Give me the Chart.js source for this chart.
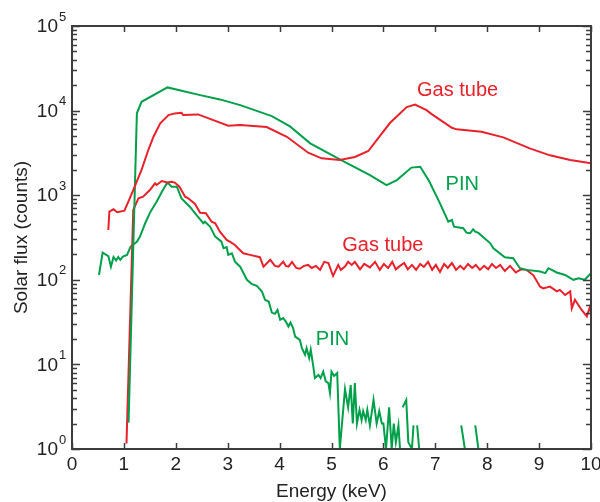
<!DOCTYPE html>
<html>
<head>
<meta charset="utf-8">
<script src="https://cdn.jsdelivr.net/npm/chart.js@4.4.1/dist/chart.umd.min.js"></script>
<style>
  body { margin: 0; background: #fff; }
  #wrap { width: 600px; height: 502px; }
</style>
</head>
<body>
<div id="wrap"><canvas id="chart" width="600" height="502"></canvas></div>
<script>
// values: energy in keV, solar flux in counts
const gasHiE = [0.70, 0.72, 0.80, 0.87, 1.01, 1.08, 1.18, 1.34, 1.47, 1.57, 1.70, 1.86, 1.98, 2.11, 2.14, 2.43, 3.01, 3.24, 3.75, 4.14,
  4.55, 4.81, 5.16, 5.45, 5.71, 5.93, 6.13, 6.45, 6.61, 6.83, 6.93, 7.32, 7.41, 7.89, 8.31, 8.82, 9.21, 9.60, 10.0];
const gasHiF = [388, 639, 682, 628, 656, 824, 1150, 1990, 3420, 4910, 7060, 8850, 9270, 9420, 8850, 9020, 6620, 6750, 6390, 4910,
  3180, 2730, 2610, 2830, 3330, 5000, 7180, 11000, 11780, 10140, 9100, 6270, 6000, 5620, 4830, 3580, 2960, 2600, 2380];

const pinHiE = [1.09, 1.25, 1.34, 1.84, 2.47, 2.85, 3.24, 3.85, 4.20, 4.59, 5.16, 5.74, 6.06, 6.26, 6.54, 6.71, 6.88, 7.09, 7.25, 7.32,
  7.36, 7.54, 7.60, 7.67, 7.73, 7.77, 7.83, 8.06, 8.12, 8.34, 8.50, 8.63, 8.76, 9.02, 9.12, 9.18, 9.34, 9.50, 9.66, 9.76, 9.88, 10.0];
const pinHiF = [2.05, 9300, 12700, 18800, 15240, 13560, 11610, 8610, 6500, 4100, 2650, 1730, 1318, 1510, 2120, 2170, 1470, 802, 486, 509,
  425, 407, 361, 355, 396, 371, 358, 270, 236, 185, 180, 137, 131, 125, 120, 137, 122, 114, 100, 104, 100, 120];

const gasLoE = [1.05, 1.18, 1.28, 1.37, 1.50, 1.60, 1.63, 1.73, 1.84, 1.92, 1.98, 2.07, 2.18, 2.24, 2.37, 2.47, 2.58, 2.69, 2.76, 2.85,
  2.98, 3.04, 3.14, 3.20, 3.30, 3.43, 3.62, 3.69, 3.82, 3.91, 3.98, 4.07, 4.12, 4.17, 4.24, 4.32, 4.39, 4.47, 4.55, 4.62,
  4.70, 4.78, 4.86, 4.94, 5.03, 5.13, 5.18, 5.26, 5.32, 5.39, 5.45, 5.55, 5.63, 5.74, 5.84, 5.93, 6.01, 6.09, 6.17, 6.24,
  6.32, 6.40, 6.47, 6.55, 6.63, 6.71, 6.78, 6.86, 6.94, 7.01, 7.09, 7.17, 7.24, 7.32, 7.40, 7.48, 7.55, 7.63, 7.71, 7.78,
  7.86, 7.94, 8.02, 8.09, 8.17, 8.25, 8.34, 8.44, 8.55, 8.65, 8.76, 8.89, 9.02, 9.08, 9.21, 9.34, 9.40, 9.50, 9.60, 9.63,
  9.69, 9.82, 9.92, 9.98, 10.0];
const gasLoF = [1.16, 671, 918, 960, 1150, 1380, 1320, 1470, 1410, 1440, 1410, 1260, 960, 918, 787, 621, 611, 486, 466, 371,
  296, 282, 258, 236, 206, 197, 185, 143, 172, 146, 143, 164, 146, 143, 163, 138, 135, 146, 150, 138,
  146, 131, 163, 158, 111, 150, 131, 143, 163, 150, 163, 133, 154, 140, 163, 131, 154, 138, 163, 133,
  146, 158, 133, 150, 131, 154, 142, 163, 131, 150, 124, 154, 138, 158, 131, 146, 133, 154, 138, 150,
  131, 146, 133, 154, 138, 150, 127, 146, 122, 133, 131, 113, 83, 79, 83, 73, 76, 66, 73, 46,
  58, 44, 37, 48, 41];

// null = zero counts (no point on a log axis)
const pinLoE = [0.52, 0.59, 0.70, 0.75, 0.80, 0.85, 0.89, 0.93, 0.98, 1.06, 1.13, 1.25, 1.31, 1.41, 1.51, 1.63, 1.73, 1.82, 1.85, 1.92,
  2.02, 2.11, 2.27, 2.40, 2.53, 2.56, 2.66, 2.76, 2.88, 2.92, 2.98, 3.01, 3.08, 3.14, 3.24, 3.37, 3.46, 3.56, 3.66, 3.72,
  3.79, 3.85, 3.91, 3.96, 4.01, 4.07, 4.12, 4.17, 4.21, 4.26, 4.30, 4.39, 4.43, 4.49, 4.52, 4.57, 4.60, 4.65, 4.68, 4.75,
  4.79, 4.84, 4.89, 4.94, 4.97, 5.00, 5.05, 5.11, 5.16, 5.26, 5.32, 5.37, 5.41, 5.45, 5.49, 5.54, 5.58, 5.61, 5.66, 5.69,
  5.74, 5.81, 5.87, 5.92, 5.97, 6.00, 6.05, 6.11, 6.16, 6.20, 6.24, 6.29, 6.32, 6.35, 6.37, 6.44, 6.48, 6.55, 6.58, 6.62,
  6.65, 6.69, 6.72, 7.50, 7.57, 7.62, 7.77, 7.83];
const pinLoF = [114, 210, 191, 143, 186, 169, 186, 172, 188, 197, 247, 282, 324, 466, 634, 838, 1090, 1355, 1390, 1260,
  1260, 918, 731, 583, 466, 486, 425, 324, 282, 236, 243, 197, 206, 164, 143, 100, 89.5, 84.8, 72.6, 58,
  55.3, 41, 39.6, 44.1, 33.7, 35.3, 32.1, 28, 31.2, 26.8, 21.3, 19.5, 15.6, 13, 15.6, 11.9, 14.9, 9.4, 6.9, 7.5,
  6.9, 8.2, 6.3, 6.0, 4.6, 8.2, 7.3, 7.9, 1, 5.1, 3.1, 5.7, 2.0, 6.0, 2.0, 2.9, 2.2, 2.8, 2.2, 2.9,
  1.9, 3.8, 2.0, 2.8, 2.0, 2.0, 1, 3.1, 1, 2.0, 1.2, 1.9, 1, null, 3.1, 3.8, 1.2, 1, 1.9, null,
  1.9, 1, null, 1.9, 1, null, 1.9, 1];

const xTicks = [0, 1, 2, 3, 4, 5, 6, 7, 8, 9, 10];
const yExps = [0, 1, 2, 3, 4, 5];

// curve labels: [text, energy, flux, colour]
const labelText = ["Gas tube", "PIN", "Gas tube", "PIN"];
const labelE = [7.43, 7.52, 5.99, 5.02];
const labelF = [17500, 1356, 255, 19.5];

const red = "#e8212b";
const green = "#00a04b";
const labelColor = [red, green, red, green];
const font = "'Liberation Sans', Arial, sans-serif";

function pairs(xs, ys) {
  return xs.map((x, i) => ({ x: x, y: ys[i] }));
}

function line(data, color) {
  return {
    data: data,
    borderColor: color,
    borderWidth: 2,
    pointRadius: 0,
    tension: 0,
    fill: false,
    spanGaps: false,
  };
}

// frame, inward ticks, tick labels, axis titles and curve labels
const frame = {
  id: "frame",
  afterDatasetsDraw(chart) {
    const ctx = chart.ctx;
    const a = chart.chartArea;
    const xs = chart.scales.x;
    const ys = chart.scales.y;
    ctx.save();
    ctx.strokeStyle = "#3c3c3c";
    ctx.lineWidth = 1.5;

    ctx.beginPath();
    for (const t of xTicks) {
      const px = Math.round(xs.getPixelForValue(t)) + 0.5;
      ctx.moveTo(px, a.bottom); ctx.lineTo(px, a.bottom - 6);
      ctx.moveTo(px, a.top); ctx.lineTo(px, a.top + 6);
    }
    for (const k of yExps) {
      for (let m = 1; m <= 9; m++) {
        const v = m * Math.pow(10, k);
        if (v > 1e5) break;
        const py = Math.round(ys.getPixelForValue(v)) + 0.5;
        const len = m === 1 ? 8 : 5;
        ctx.moveTo(a.left, py); ctx.lineTo(a.left + len, py);
        ctx.moveTo(a.right, py); ctx.lineTo(a.right - len, py);
      }
    }
    ctx.stroke();

    ctx.lineWidth = 2;
    ctx.strokeRect(a.left, a.top, a.right - a.left, a.bottom - a.top);

    ctx.fillStyle = "#222";
    ctx.font = "19px " + font;
    ctx.textAlign = "center";
    ctx.textBaseline = "middle";
    for (const t of xTicks) {
      ctx.fillText(String(t), xs.getPixelForValue(t), a.bottom + 16);
    }

    for (const k of yExps) {
      const py = ys.getPixelForValue(Math.pow(10, k));
      ctx.font = "19px " + font;
      ctx.textAlign = "right";
      ctx.fillText("10", 58, py + 1);
      ctx.font = "13px " + font;
      ctx.textAlign = "left";
      ctx.fillText(String(k), 59, py - 9);
    }

    ctx.font = "19px " + font;
    ctx.textAlign = "center";
    ctx.fillText("Energy (keV)", (a.left + a.right) / 2, 492);
    ctx.save();
    ctx.translate(22, (a.top + a.bottom) / 2);
    ctx.rotate(-Math.PI / 2);
    ctx.fillText("Solar flux (counts)", 0, 0);
    ctx.restore();

    ctx.font = "20px " + font;
    for (let i = 0; i < labelText.length; i++) {
      ctx.fillStyle = labelColor[i];
      ctx.fillText(labelText[i], xs.getPixelForValue(labelE[i]), ys.getPixelForValue(labelF[i]));
    }
    ctx.restore();
  },
};

const ctx = document.getElementById("chart").getContext("2d");
const myChart = new Chart(ctx, {
  type: "line",
  data: {
    datasets: [
      line(pairs(gasHiE, gasHiF), red),
      line(pairs(pinHiE, pinHiF), green),
      line(pairs(gasLoE, gasLoF), red),
      line(pairs(pinLoE, pinLoF), green),
    ],
  },
  options: {
    responsive: false,
    animation: false,
    devicePixelRatio: 1,
    layout: { padding: { left: 72, right: 9, top: 26, bottom: 53 } },
    plugins: { legend: { display: false }, tooltip: { enabled: false } },
    scales: {
      x: { type: "linear", min: 0, max: 10, display: false },
      y: { type: "logarithmic", min: 1, max: 100000, display: false },
    },
  },
  plugins: [frame],
});
</script>
</body>
</html>
